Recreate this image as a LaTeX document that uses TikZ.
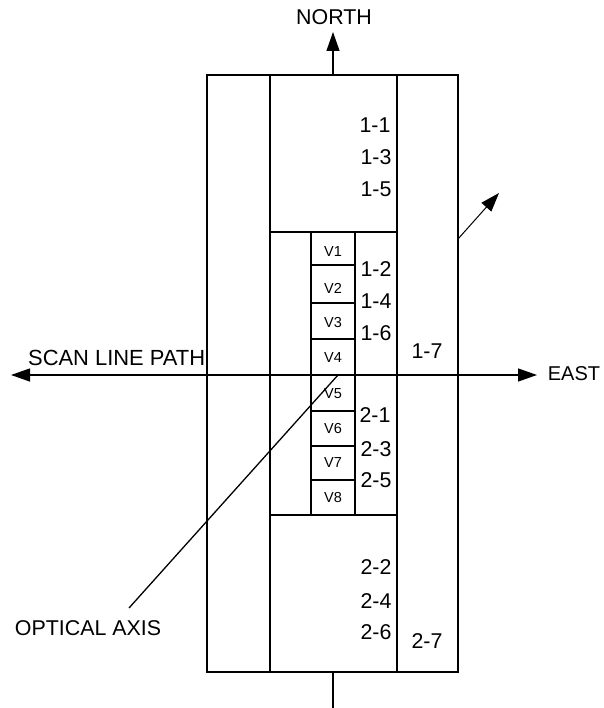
\documentclass[tikz,border=0pt]{standalone}
\usepackage{fontspec}
\setmainfont{Liberation Sans}
\usetikzlibrary{arrows.meta}
\tikzset{
  ln/.style={draw=black,line width=1.3pt},
  arw/.style={ln,-{Triangle[length=19pt,width=13pt]}},
  arwb/.style={ln,{Triangle[length=19pt,width=13pt]}-{Triangle[length=19pt,width=13pt]}},
  arws/.style={ln,line width=1pt,-{Triangle[length=19pt,width=13pt]}},
  lab/.style={inner sep=0pt,font=\fontsize{21.4}{21.4}\selectfont},
  vlab/.style={inner sep=0pt,font=\fontsize{14.5}{14.5}\selectfont},
}
\begin{document}
\begin{tikzpicture}[x=1pt,y=-1pt]
\useasboundingbox (0,0) rectangle (603,708);
% frames
\coordinate (ol) at (207,75); \coordinate (or) at (458,672);
\draw[ln] (ol) rectangle (or);
\coordinate (il) at (270,75); \coordinate (ilb) at (270,672);
\coordinate (ir) at (397,75); \coordinate (irb) at (397,672);
\draw[ln] (il) -- (ilb);
\draw[ln] (ir) -- (irb);
\coordinate (m1l) at (270,232); \coordinate (m1r) at (397,232);
\coordinate (m2l) at (270,515); \coordinate (m2r) at (397,515);
\draw[ln] (m1l) -- (m1r);
\draw[ln] (m2l) -- (m2r);
% V cells
\foreach \n/\a/\b/\c in {V1/232/265/252,V2/265/303/288,V3/303/339/323,V4/339/375/358,V5/375/411/394,V6/411/446/429,V7/446/480/463,V8/480/515/498}{
  \draw[ln] (311,\a) rectangle (355,\b);
  \node[vlab] (\n) at (333,\c) {\n};
}
% labels
\foreach \t/\x/\y in {1-1/375/125,1-3/376/157,1-5/376/189,1-2/376/269,1-4/376/301,1-6/376/333,2-1/375/415,2-3/376/449,2-5/376/480,2-2/376/567,2-4/376/601,2-6/376/632,1-7/427/351,2-7/427/641}{
  \node[lab] (n\t) at (\x,\y) {\t};
}
\node[lab] (north) at (334,17) {NORTH};
\node[lab,font=\fontsize{20}{20}\selectfont] (east) at (574,374) {EAST};
\node[lab,anchor=west,font=\fontsize{21.9}{21.9}\selectfont] (scan) at (28,358) {SCAN LINE PATH};
\node[lab] (optic) at (88,628) {OPTICAL AXIS};
% axes
\coordinate (ntop) at (333,75);
\coordinate (nbot) at (333,32);
\draw[arw] (ntop) -- (nbot);
\coordinate (sa) at (333,672); \coordinate (sb) at (333,708);
\draw[ln] (sa) -- (sb);
\coordinate (wt) at (11,375); \coordinate (et) at (537,375);
\draw[arwb] (wt) -- (et);
\coordinate (oa) at (129,608); \coordinate (ob) at (338,375);
\draw[ln] (oa) -- (ob);
\coordinate (da) at (458,239); \coordinate (db) at (499,193);
\draw[arws] (da) -- (db);
\end{tikzpicture}
\end{document}
